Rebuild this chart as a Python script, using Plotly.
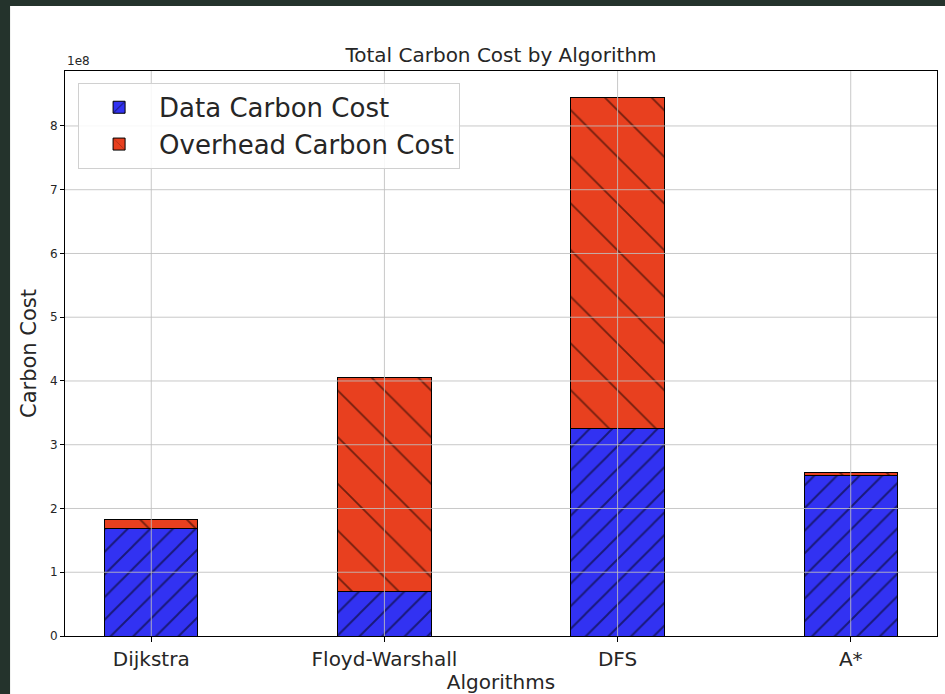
import plotly.graph_objects as go

# ---- data ----
algorithms = ["Dijkstra", "Floyd-Warshall", "DFS", "A*"]
data_carbon_cost = [1.69e8, 0.70e8, 3.25e8, 2.51e8]
overhead_carbon_cost = [0.14e8, 3.35e8, 5.19e8, 0.05e8]
y_tick_values = [0, 1e8, 2e8, 3e8, 4e8, 5e8, 6e8, 7e8, 8e8]
y_tick_labels = ["0", "1", "2", "3", "4", "5", "6", "7", "8"]

totals = [d + o for d, o in zip(data_carbon_cost, overhead_carbon_cost)]
y_max = 1.05 * max(totals)

FONT = "DejaVu Sans"
TXT = "#262626"
BLUE = "#3232f2"
RED = "#e8401f"
GRID = "rgba(190,190,190,0.85)"

fig = go.Figure()
fig.add_trace(go.Bar(
    x=algorithms, y=data_carbon_cost, name="Data Carbon Cost", width=0.4,
    marker=dict(color=BLUE, line=dict(color="black", width=1),
                pattern=dict(shape="/", fgcolor="black", size=16, solidity=0.12)),
))
fig.add_trace(go.Bar(
    x=algorithms, y=overhead_carbon_cost, name="Overhead Carbon Cost", width=0.4,
    marker=dict(color=RED, line=dict(color="black", width=1),
                pattern=dict(shape="\\", fgcolor="black", size=33, solidity=0.055)),
))

shapes = []
# screenshot frame: dark surround, white page
shapes.append(dict(type="rect", xref="paper", yref="paper", x0=-0.063, x1=1.06,
                   y0=-0.2, y1=1.115, fillcolor="white", line=dict(width=0), layer="below"))
# gridlines drawn above bars (as in the reference)
for cat in algorithms:
    shapes.append(dict(type="line", xref="x", yref="paper", x0=cat, x1=cat, y0=0, y1=1,
                       line=dict(color=GRID, width=1), layer="above"))
for v in y_tick_values[1:]:
    shapes.append(dict(type="line", xref="paper", yref="y", x0=0, x1=1, y0=v, y1=v,
                       line=dict(color=GRID, width=1), layer="above"))

fig.update_layout(
    width=945, height=694,
    margin=dict(l=65, r=7, t=71, b=55),
    paper_bgcolor="#24332c", plot_bgcolor="white",
    barmode="stack", bargap=0.6,
    font=dict(family=FONT, color=TXT),
    title=dict(text="Total Carbon Cost by Algorithm", x=0.5, xref="paper", xanchor="center",
               y=1 - 55 / 694, yref="container", yanchor="middle",
               font=dict(size=20, color=TXT, family=FONT)),
    showlegend=True,
    legend=dict(x=0.015, y=0.979, xanchor="left", yanchor="top",
                bgcolor="rgba(255,255,255,0.85)", bordercolor="#d0d0d0", borderwidth=1,
                font=dict(size=26, color=TXT, family=FONT), traceorder="normal",
                itemwidth=70),
    shapes=shapes,
    annotations=[dict(text="1e8", xref="paper", yref="paper", x=0, y=1, xanchor="left",
                      yanchor="bottom", yshift=1, showarrow=False,
                      font=dict(size=12, color=TXT, family=FONT))],
)
fig.update_xaxes(
    range=[-0.37, 3.37], showgrid=False, showline=True, linecolor="black", linewidth=1,
    mirror=True, ticks="outside", ticklen=5, tickcolor="black",
    tickfont=dict(size=20, color=TXT, family=FONT),
    title=dict(text="Algorithms", font=dict(size=20, color=TXT, family=FONT), standoff=2),
)
fig.update_yaxes(
    range=[0, y_max], showgrid=False, zeroline=False, showline=True, linecolor="black",
    linewidth=1, mirror=True, ticks="outside", ticklen=4, tickcolor="black",
    tickvals=y_tick_values, ticktext=y_tick_labels,
    tickfont=dict(size=12, color=TXT, family=FONT),
    title=dict(text="Carbon Cost", font=dict(size=21, color=TXT, family=FONT), standoff=7),
)

fig.write_html("out.html", config={"displayModeBar": False},
               post_script="document.body.style.margin='0';")
